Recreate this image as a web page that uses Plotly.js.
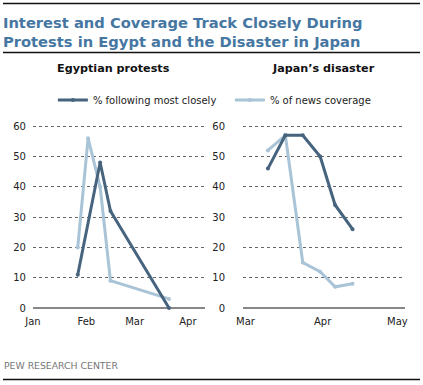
<!DOCTYPE html>
<html><head><meta charset="utf-8">
<script src="https://cdn.plot.ly/plotly-3.0.1.min.js"></script>
<style>html,body{margin:0;padding:0;background:#fff}#chart{width:423px;height:385px}</style>
</head><body><div id="chart"></div>
<script>
// Egyptian protests
const egyptDatesFollow = ['2011-01-27','2011-02-09','2011-02-15','2011-03-21'];
const egyptFollow = [11, 48, 32, 0];
const egyptDatesCoverage = ['2011-01-27','2011-02-02','2011-02-09','2011-02-15','2011-03-21'];
const egyptCoverage = [20, 56, 40, 9, 3];
// Japan's disaster
const japanDates = ['2011-03-10','2011-03-17','2011-03-24','2011-03-31','2011-04-06','2011-04-13'];
const japanFollow = [46, 57, 57, 50, 34, 26];
const japanCoverage = [52, 57, 15, 12, 7, 8];
const yTicks = [0, 10, 20, 30, 40, 50, 60];
const seriesNames = ['% following most closely', '% of news coverage'];

const dark = '#46647e', light = '#a9c3d7';
const fnt = 'DejaVu Sans, Verdana, sans-serif';

function tr(x, y, name, color, xa, ya, show, rank) {
  return {x: x, y: y, name: name, type: 'scatter', mode: 'lines+markers',
    line: {color: color, width: 3}, marker: {color: color, size: 4}, legendrank: rank,
    xaxis: xa, yaxis: ya, showlegend: show, cliponaxis: false, hoverinfo: 'skip'};
}
// light traces first so the dark lines are drawn on top
const traces = [
  tr(egyptDatesCoverage, egyptCoverage, seriesNames[1], light, 'x', 'y', true, 2),
  tr(japanDates, japanCoverage, seriesNames[1], light, 'x2', 'y2', false, 2),
  tr(egyptDatesFollow, egyptFollow, seriesNames[0], dark, 'x', 'y', true, 1),
  tr(japanDates, japanFollow, seriesNames[0], dark, 'x2', 'y2', false, 1)
];

const yax = {range: [0, 62], tickvals: yTicks, showgrid: true, gridcolor: '#666', griddash: 'dot', gridwidth: 1,
  zeroline: true, zerolinecolor: '#888', zerolinewidth: 1.5, showline: false, ticks: '',
  tickfont: {family: fnt, size: 10, color: '#222'}, domain: [0.2, 0.688], fixedrange: true};
const xbase = {type: 'date', showgrid: false, zeroline: false, showline: false, ticks: '', tickformat: '%b',
  tickfont: {family: fnt, size: 10, color: '#222'}, ticklabelstandoff: 6, fixedrange: true};

const layout = {
  width: 423, height: 385, margin: {l: 0, r: 0, t: 0, b: 0},
  paper_bgcolor: '#fff', plot_bgcolor: '#fff',
  title: {text: 'Interest and Coverage Track Closely During<br>Protests in Egypt and the Disaster in Japan',
    x: 0.007, xanchor: 'left', y: 1 - 27.5/385, yanchor: 'middle',
    font: {family: fnt, size: 14.7, color: '#4677a2', weight: 'bold'}},
  xaxis: Object.assign({}, xbase, {domain: [0.078, 0.485], range: ['2011-01-01', '2011-04-11'],
    tickvals: ['2011-01-01','2011-02-01','2011-03-01','2011-04-01'], anchor: 'y'}),
  yaxis: Object.assign({}, yax, {anchor: 'x', ticklabelstandoff: 6}),
  xaxis2: Object.assign({}, xbase, {domain: [0.5745, 0.957], range: ['2011-02-28', '2011-05-04'],
    tickvals: ['2011-03-01','2011-04-01','2011-05-01'], anchor: 'y2'}),
  yaxis2: Object.assign({}, yax, {anchor: 'x2', ticklabelstandoff: 17}),
  showlegend: true,
  legend: {orientation: 'h', x: 0.125, xanchor: 'left', y: 0.74, yanchor: 'middle', traceorder: 'normal',
    font: {family: fnt, size: 10, color: '#222'}, entrywidth: 132, entrywidthmode: 'pixels', bgcolor: 'rgba(0,0,0,0)'},
  annotations: [
    {text: '<b>Egyptian protests</b>', xref: 'paper', yref: 'paper', x: 113/423, xanchor: 'center', y: 1 - 69/385, yanchor: 'middle', showarrow: false,
      font: {family: fnt, size: 11.2, color: '#111'}},
    {text: '<b>Japan\u2019s disaster</b>', xref: 'paper', yref: 'paper', x: 323/423, xanchor: 'center', y: 1 - 69/385, yanchor: 'middle', showarrow: false,
      font: {family: fnt, size: 11.2, color: '#111'}},
    {text: 'PEW RESEARCH CENTER', xref: 'paper', yref: 'paper', x: 2/423, xanchor: 'left', y: 1 - 365/385, yanchor: 'middle', showarrow: false,
      font: {family: fnt, size: 9.3, color: '#777'}}
  ],
  shapes: [
    {type: 'line', xref: 'paper', yref: 'paper', x0: 3/423, x1: 420/423, y0: 1 - 3.5/385, y1: 1 - 3.5/385, line: {color: '#111', width: 1.5}},
    {type: 'line', xref: 'paper', yref: 'paper', x0: 3/423, x1: 420/423, y0: 1 - 52.5/385, y1: 1 - 52.5/385, line: {color: '#111', width: 1.5}},
    {type: 'line', xref: 'paper', yref: 'paper', x0: 3/423, x1: 420/423, y0: 1 - 379.5/385, y1: 1 - 379.5/385, line: {color: '#111', width: 1.5}}
  ]
};
Plotly.newPlot('chart', traces, layout, {displayModeBar: false, staticPlot: true});
</script></body></html>
